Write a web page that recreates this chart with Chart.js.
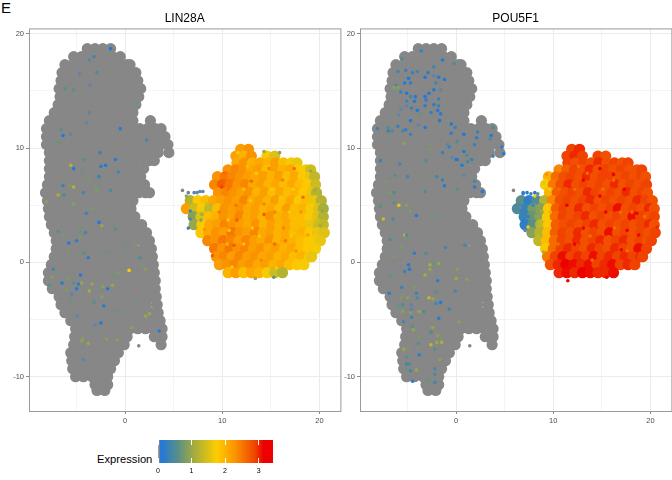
<!DOCTYPE html>
<html>
<head>
<meta charset="utf-8">
<script src="https://cdn.jsdelivr.net/npm/chart.js@4"></script>
<style>
    body { margin: 0; background: #fff; width: 672px; height: 480px; position: relative; overflow: hidden; font-family: "Liberation Sans", sans-serif; }
    canvas { position: absolute; }
    .label { position: absolute; color: #000; line-height: 1; }
</style>
</head>
<body>
<div class="label" style="left:1px;top:0px;font-size:15px;">E</div>
<canvas id="panelA" width="346" height="430" style="left:0;top:0"></canvas>
<canvas id="panelB" width="346" height="430" style="left:331px;top:0"></canvas>
<div class="label" style="left:97px;top:454px;font-size:11.2px;">Expression</div>
<canvas id="legendBar" width="135" height="45" style="left:148px;top:435px"></canvas>
<script>
const xTicks = [0, 10, 20];
const yTicks = [-10, 0, 10, 20];
const panelTitles = ['LIN28A', 'POU5F1'];

// colour bar of the picture
const exprStops = [0, 0.03, 0.08, 0.6, 1.1, 1.75, 2.3, 2.9, 3.15, 3.43];
const exprColors = ['#8a8a8a', '#8a8a8a', '#1f78dc', '#5a8f86', '#a6ad3a', '#fdcd00', '#fb9300', '#f04300', '#ec0000', '#ec0000'];

// the big grey mass, same cells in both panels: one y per row, then the x values of that row
const bodyY = [18.7, 18.0, 17.3, 16.6, 15.9, 15.2, 14.5, 13.8, 13.1, 12.4, 11.7, 11.0, 10.3, 9.6, 8.9, 8.2, 7.5, 6.8, 6.1, 5.4, 4.7, 4.0, 3.3, 2.6, 1.9, 1.2, 0.5, -0.2, -0.9, -1.6, -2.3, -3.0, -3.7, -4.4, -5.1, -5.8, -6.5, -7.2, -7.9, -8.6, -9.3, -10.0, -10.7, -11.2];
const bodyX = [
    [-3.9, -3.1, -2.3, -1.5],
    [-5.3, -4.5, -3.7, -2.9, -2.1, -1.3, -0.5],
    [-6.2, -5.4, -4.6, -3.8, -3.0, -2.2, -1.4, -0.6, 0.2, 0.5],
    [-6.5, -5.7, -4.9, -4.1, -3.3, -2.5, -1.7, -0.9, -0.1, 0.7, 1.1],
    [-6.6, -5.8, -5.0, -4.2, -3.4, -2.6, -1.8, -1.0, -0.2, 0.6, 1.3],
    [-6.8, -6.0, -5.2, -4.4, -3.6, -2.8, -2.0, -1.2, -0.4, 0.4, 1.2, 1.6],
    [-6.7, -5.9, -5.1, -4.3, -3.5, -2.7, -1.9, -1.1, -0.3, 0.5, 1.4],
    [-6.9, -6.1, -5.3, -4.5, -3.7, -2.9, -2.1, -1.3, -0.5, 0.3, 1.1],
    [-7.3, -6.5, -5.7, -4.9, -4.1, -3.3, -2.5, -1.7, -0.9, -0.1, 0.8],
    [-7.8, -7.0, -6.2, -5.4, -4.6, -3.8, -3.0, -2.2, -1.4, -0.6, 0.2, 0.8, 2.6],
    [-8.1, -7.3, -6.5, -5.7, -4.9, -4.1, -3.3, -2.5, -1.7, -0.9, -0.1, 0.7, 1.5, 2.3, 3.1, 3.7],
    [-8.1, -7.3, -6.5, -5.7, -4.9, -4.1, -3.3, -2.5, -1.7, -0.9, -0.1, 0.7, 1.5, 2.3, 3.1, 4.1],
    [-8.1, -7.5, -6.7, -5.9, -5.1, -4.3, -3.5, -2.7, -1.9, -1.1, -0.3, 0.5, 1.3, 2.1, 2.9, 3.7, 4.4],
    [-7.8, -7.0, -6.2, -5.4, -4.6, -3.8, -3.0, -2.2, -1.4, -0.6, 0.2, 1.0, 1.8, 2.6, 3.4, 4.5],
    [-7.8, -7.0, -6.2, -5.4, -4.6, -3.8, -3.0, -2.2, -1.4, -0.6, 0.2, 1.0, 1.8, 2.5, 3.0],
    [-7.8, -7.0, -6.2, -5.4, -4.6, -3.8, -3.0, -2.2, -1.4, -0.6, 0.2, 1.0, 1.9],
    [-7.8, -7.1, -6.3, -5.5, -4.7, -3.9, -3.1, -2.3, -1.5, -0.7, 0.1, 0.9, 1.6],
    [-8.0, -7.2, -6.4, -5.6, -4.8, -4.0, -3.2, -2.4, -1.6, -0.8, 0.0, 0.8, 1.6, 2.0],
    [-8.2, -7.4, -6.6, -5.8, -5.0, -4.2, -3.4, -2.6, -1.8, -1.0, -0.2, 0.6, 1.4, 2.1, 2.5],
    [-8.0, -7.2, -6.4, -5.6, -4.8, -4.0, -3.2, -2.4, -1.6, -0.8, 0.0, 0.8],
    [-7.9, -7.1, -6.3, -5.5, -4.7, -3.9, -3.1, -2.3, -1.5, -0.7, 0.1, 0.6],
    [-7.8, -7.0, -6.2, -5.4, -4.6, -3.8, -3.0, -2.2, -1.4, -0.6, 0.2, 1.0],
    [-7.6, -6.8, -6.0, -5.2, -4.4, -3.6, -2.8, -2.0, -1.2, -0.4, 0.4, 1.2, 1.7],
    [-7.3, -6.5, -5.7, -4.9, -4.1, -3.3, -2.5, -1.7, -0.9, -0.1, 0.7, 1.5, 2.2],
    [-7.1, -6.3, -5.5, -4.7, -3.9, -3.1, -2.3, -1.5, -0.7, 0.1, 0.9, 1.7, 2.5],
    [-7.1, -6.3, -5.5, -4.7, -3.9, -3.1, -2.3, -1.5, -0.7, 0.1, 0.9, 1.9, 2.7],
    [-7.3, -6.5, -5.7, -4.9, -4.1, -3.3, -2.5, -1.7, -0.9, -0.1, 0.7, 1.5, 2.3, 2.8],
    [-7.6, -6.8, -6.0, -5.2, -4.4, -3.6, -2.8, -2.0, -1.2, -0.4, 0.4, 1.2, 2.0, 2.9],
    [-7.9, -7.1, -6.3, -5.5, -4.7, -3.9, -3.1, -2.3, -1.5, -0.7, 0.1, 0.9, 1.7, 2.5, 3.0],
    [-7.9, -7.2, -6.4, -5.6, -4.8, -4.0, -3.2, -2.4, -1.6, -0.8, 0.0, 0.8, 1.6, 2.4, 3.1],
    [-7.5, -6.7, -5.9, -5.1, -4.3, -3.5, -2.7, -1.9, -1.1, -0.3, 0.5, 1.3, 2.1, 3.1],
    [-6.8, -6.0, -5.2, -4.4, -3.6, -2.8, -2.0, -1.2, -0.4, 0.4, 1.2, 2.0, 2.7, 3.2],
    [-6.6, -5.8, -5.0, -4.2, -3.4, -2.6, -1.8, -1.0, -0.2, 0.6, 1.4, 2.2, 3.3],
    [-6.2, -5.4, -4.6, -3.8, -3.0, -2.2, -1.4, -0.6, 0.2, 1.0, 1.8, 2.6, 3.4],
    [-5.6, -4.8, -4.0, -3.2, -2.4, -1.6, -0.8, 0.0, 0.8, 1.6, 2.4, 3.0, 3.6],
    [-5.1, -4.3, -3.5, -2.7, -1.9, -1.1, -0.3, 0.5, 1.3, 2.1, 2.9, 3.8],
    [-5.2, -4.4, -3.6, -2.8, -2.0, -1.2, -0.4, 0.2, 3.0, 3.8],
    [-5.3, -4.5, -3.7, -2.9, -2.1, -1.3, -0.5, -0.1, 3.7],
    [-5.6, -4.8, -4.0, -3.2, -2.4, -1.6, -0.7],
    [-5.5, -4.7, -3.9, -3.1, -2.3, -1.5, -1.1],
    [-5.4, -4.6, -3.8, -3.0, -2.2, -1.5],
    [-5.1, -4.3, -3.4, -2.6, -1.8],
    [-3.1, -2.4, -1.8],
    [-2.9, -2.1]
];

// the coloured cluster on the right, same cells in both panels
const clusterY = [9.9, 9.3, 8.7, 8.1, 7.5, 6.8, 6.1, 5.4, 4.7, 4.0, 3.3, 2.6, 1.9, 1.2, 0.5, -0.2, -0.9];
const clusterX = [
    [11.9, 12.7],
    [11.4, 12.2, 13.0, 14.6, 15.4],
    [11.5, 12.3, 13.1, 13.9, 14.7, 15.5, 16.3, 17.1, 17.7],
    [10.6, 11.4, 12.2, 13.0, 13.8, 14.6, 15.4, 16.2, 17.0, 17.8, 18.6, 19.1],
    [9.5, 10.3, 11.1, 11.9, 12.7, 13.5, 14.3, 15.1, 15.9, 16.7, 17.5, 18.3, 19.1, 19.5],
    [9.2, 10.0, 10.8, 11.6, 12.4, 13.2, 14.0, 14.8, 15.6, 16.4, 17.2, 18.0, 18.8, 19.6],
    [9.6, 10.4, 11.2, 12.0, 12.8, 13.6, 14.4, 15.2, 16.0, 16.8, 17.6, 18.4, 19.2, 19.7],
    [6.7, 7.5, 8.3, 9.1, 9.9, 10.7, 11.5, 12.3, 13.1, 13.9, 14.7, 15.5, 16.3, 17.1, 17.9, 18.7, 19.5, 20.2],
    [6.3, 7.1, 7.9, 8.7, 9.5, 10.3, 11.1, 11.9, 12.7, 13.5, 14.3, 15.1, 15.9, 16.7, 17.5, 18.3, 19.1, 19.9, 20.4],
    [7.0, 7.8, 8.6, 9.4, 10.2, 11.0, 11.8, 12.6, 13.4, 14.2, 15.0, 15.8, 16.6, 17.4, 18.2, 19.0, 19.8, 20.4],
    [7.1, 7.9, 8.7, 9.5, 10.3, 11.1, 11.9, 12.7, 13.5, 14.3, 15.1, 15.9, 16.7, 17.5, 18.3, 19.1, 19.9, 20.4],
    [7.8, 8.6, 9.4, 10.2, 11.0, 11.8, 12.6, 13.4, 14.2, 15.0, 15.8, 16.6, 17.4, 18.2, 19.0, 19.8, 20.5],
    [8.5, 9.3, 10.1, 10.9, 11.7, 12.5, 13.3, 14.1, 14.9, 15.7, 16.5, 17.3, 18.1, 18.9, 19.7, 20.1],
    [9.2, 10.0, 10.8, 11.6, 12.4, 13.2, 14.0, 14.8, 15.6, 16.4, 17.2, 18.0, 18.8, 19.6],
    [9.4, 10.2, 11.0, 11.8, 12.6, 13.4, 14.2, 15.0, 15.8, 16.6, 17.4, 18.2, 19.0, 19.2],
    [9.7, 10.5, 11.3, 12.1, 12.9, 13.7, 14.5, 15.3, 16.1, 16.9, 17.7, 18.4],
    [10.6, 11.4, 12.2, 13.0, 13.8, 14.6, 15.4, 16.2]
];
const clusterLin28a = [
    [2.2, 2.3],
    [2.2, 2.0, 2.3, 1.7, 1.5],
    [2.1, 2.3, 2.0, 2.1, 2.0, 2.2, 1.9, 1.8, 1.6],
    [2.3, 2.4, 2.3, 2.1, 2.2, 1.9, 2.2, 2.0, 2.1, 1.8, 1.7, 1.4],
    [2.3, 2.5, 2.4, 2.3, 2.2, 2.1, 2.2, 2.0, 2.2, 1.9, 2.1, 1.8, 1.6, 1.3],
    [2.4, 2.7, 2.5, 2.3, 2.4, 2.1, 2.2, 2.0, 2.1, 1.9, 2.1, 1.9, 1.8, 1.4],
    [2.3, 2.4, 2.3, 2.2, 2.3, 2.0, 2.2, 1.9, 2.1, 1.9, 2.0, 1.8, 1.6, 1.2],
    [1.2, 1.8, 1.9, 2.1, 2.2, 2.3, 2.2, 2.4, 2.1, 2.2, 2.0, 2.2, 1.9, 2.1, 1.8, 1.9, 1.6, 1.2],
    [2.2, 1.4, 1.7, 1.3, 1.9, 2.3, 2.2, 2.3, 2.1, 2.2, 2.0, 2.1, 1.9, 2.2, 1.9, 2.0, 1.7, 1.5, 1.1],
    [0.9, 1.5, 1.9, 2.0, 2.3, 2.2, 2.4, 2.1, 2.2, 2.0, 2.3, 2.0, 2.1, 1.9, 1.9, 1.7, 1.5, 1.2],
    [1.0, 1.7, 2.1, 2.2, 2.4, 2.3, 2.2, 2.1, 2.3, 2.0, 2.2, 2.0, 2.1, 1.9, 1.9, 1.6, 1.4, 1.3],
    [1.8, 2.1, 2.3, 2.2, 2.5, 2.3, 2.2, 2.4, 2.1, 2.2, 2.0, 2.1, 1.9, 2.0, 1.8, 1.6, 1.5],
    [2.4, 2.3, 2.5, 2.4, 2.2, 2.4, 2.2, 2.1, 2.3, 2.0, 2.1, 2.0, 1.9, 1.8, 1.7, 1.6],
    [2.5, 2.3, 2.5, 2.3, 2.4, 2.2, 2.3, 2.1, 2.2, 2.0, 2.1, 1.9, 1.8, 1.7],
    [2.3, 2.4, 2.2, 2.4, 2.2, 2.3, 2.1, 2.2, 2.0, 2.1, 1.9, 2.0, 1.8, 1.6],
    [2.2, 2.3, 2.4, 2.2, 2.3, 2.1, 2.2, 2.0, 2.1, 1.9, 1.8, 1.7],
    [2.0, 2.2, 1.9, 2.1, 2.0, 1.7, 1.4, 1.2]
];
const clusterPou5f1 = [
    [2.9, 3.0],
    [2.9, 3.0, 2.9, 2.9, 2.8],
    [2.9, 2.8, 2.9, 2.8, 3.0, 2.8, 2.9, 2.8, 2.9],
    [2.4, 2.7, 2.9, 2.8, 3.0, 2.8, 2.9, 2.8, 2.9, 2.8, 2.8, 2.9],
    [2.0, 2.6, 2.8, 2.9, 2.8, 3.0, 2.8, 2.9, 2.9, 2.8, 2.9, 2.8, 2.9, 2.8],
    [1.7, 2.5, 2.8, 3.0, 2.8, 2.9, 2.8, 2.9, 2.8, 3.0, 2.8, 2.9, 2.8, 2.9],
    [2.0, 2.7, 2.8, 2.9, 2.8, 3.0, 2.9, 2.8, 2.9, 2.8, 3.0, 2.8, 2.9, 2.8],
    [0.6, 0.2, 0.5, 1.2, 2.4, 2.8, 2.9, 2.8, 2.9, 3.0, 2.8, 2.9, 2.8, 2.9, 2.8, 3.0, 2.9, 2.8],
    [0.5, 0.3, 0.8, 0.9, 1.8, 2.7, 2.9, 2.8, 3.0, 2.8, 2.9, 2.8, 2.9, 3.1, 2.8, 2.9, 2.8, 3.0, 2.8],
    [0.3, 0.7, 0.9, 1.7, 2.6, 2.9, 2.8, 2.9, 3.0, 2.8, 2.9, 2.8, 2.9, 2.8, 3.1, 2.9, 2.8, 2.9],
    [0.2, 0.6, 1.3, 1.8, 2.7, 2.8, 2.9, 2.8, 2.9, 3.0, 2.8, 2.9, 2.8, 2.9, 2.8, 2.9, 3.0, 2.8],
    [0.9, 1.2, 1.9, 2.7, 2.9, 2.8, 3.0, 2.8, 2.9, 2.8, 3.1, 2.8, 2.9, 2.8, 2.9, 2.8, 2.9],
    [1.3, 1.9, 2.6, 2.9, 2.8, 3.0, 2.8, 2.9, 3.0, 2.8, 2.9, 3.0, 2.8, 2.9, 2.8, 2.9],
    [1.8, 2.6, 2.9, 3.0, 2.9, 2.8, 3.0, 2.9, 2.8, 3.0, 2.9, 2.8, 3.1, 2.9],
    [2.5, 2.9, 3.1, 2.9, 3.0, 2.9, 3.1, 2.9, 3.0, 2.9, 3.0, 2.9, 3.0, 2.9],
    [2.8, 3.0, 3.2, 3.1, 3.0, 3.1, 2.9, 3.0, 3.1, 2.9, 3.0, 2.9],
    [3.0, 3.1, 3.0, 3.2, 3.1, 3.0, 3.0, 3.1]
];

// loose grey cells outside the mass
const strayGray = [[5.9, 6.3], [1.4, -7.3]];

// expressing cells scattered inside the grey mass: x, y, expression
const lin28aSpots = [
    [-1.5, 18.7, 0.1], [-3.2, 18.0, 0.4], [-3.7, 17.7, 0.5], [-4.7, 16.5, 0.05], [-2.9, 16.6, 0.5], [-3.6, 15.5, 0.05], [-6.2, 15.2, 0.6], [-5.3, 15.1, 0.6],
    [1.0, 13.9, 0.7], [-3.7, 13.1, 0.05], [-4.0, 12.2, 0.05], [-0.5, 11.7, 0.15], [-6.6, 11.6, 0.6], [-6.4, 11.1, 0.1], [-5.6, 11.2, 0.05], [-6.8, 10.5, 0.7],
    [2.2, 10.7, 0.4], [-2.6, 9.6, 0.3], [-4.2, 9.0, 0.6], [-1.0, 9.0, 0.15], [-5.6, 8.5, 1.2], [-5.3, 8.2, 0.1], [-2.5, 8.4, 0.2], [-2.0, 8.5, 0.1],
    [-4.5, 8.0, 0.7], [-0.7, 7.9, 0.4], [-2.7, 7.5, 0.3], [-3.8, 7.3, 0.8], [-6.4, 6.7, 0.3], [-5.7, 6.7, 0.8], [-5.3, 6.6, 1.2], [-3.1, 6.6, 0.8],
    [-2.9, 6.3, 0.8], [-1.5, 6.3, 0.5], [-4.3, 6.1, 0.4], [-6.9, 5.9, 1.1], [-6.3, 5.9, 0.5], [-8.1, 5.3, 0.9], [-5.3, 5.1, 0.9], [-3.3, 4.7, 0.8],
    [-4.0, 4.3, 0.3], [-2.7, 3.5, 0.1], [-2.4, 3.2, 1.0], [-1.0, 2.9, 0.6], [-6.9, 2.7, 0.6], [-4.6, 2.7, 0.7], [-4.1, 2.6, 0.4], [-6.3, 2.3, 0.8],
    [-4.6, 2.2, 0.8], [-5.8, 1.7, 0.1], [-5.0, 1.9, 0.2], [-5.8, 1.0, 0.8], [-4.2, 0.8, 0.6], [-3.8, 0.4, 0.2], [-1.9, 0.9, 0.7], [0.0, 1.5, 0.7],
    [1.1, 1.5, 0.8], [1.5, 0.4, 0.5], [1.7, -0.3, 0.8], [2.1, -0.6, 0.9], [0.4, -0.7, 1.7], [-7.4, -0.6, 0.4], [-7.5, -1.3, 0.9], [-4.6, -1.1, 0.1],
    [-1.2, -1.2, 0.7], [-0.6, -0.9, 0.8], [-6.5, -1.8, 0.1], [-5.8, -1.4, 0.8], [-5.3, -1.8, 0.6], [-4.5, -1.8, 1.0], [-4.8, -1.9, 0.2], [-3.4, -1.9, 1.0],
    [-7.8, -2.0, 0.6], [-5.0, -2.3, 0.1], [-6.0, -2.4, 0.8], [-3.7, -2.5, 1.1], [-2.3, -2.1, 0.9], [-1.3, -2.0, 1.0], [-1.8, -2.3, 0.1], [-5.5, -2.8, 0.05],
    [-2.4, -3.0, 0.9], [-5.6, -3.4, 0.7], [-3.2, -3.5, 0.6], [-2.2, -3.8, 0.2], [1.2, -3.6, 0.7], [-0.7, -4.3, 0.7], [-4.9, -4.7, 0.05], [2.1, -4.7, 1.0],
    [2.5, -4.5, 1.0], [-3.1, -5.5, 0.05], [-2.5, -5.3, 0.1], [0.7, -5.7, 0.9], [3.5, -6.0, 0.1], [-4.4, -6.7, 0.9], [-4.5, -6.9, 0.9], [-3.8, -7.1, 1.0],
    [-1.9, -6.7, 0.9], [-0.8, -6.8, 0.9], [-4.3, -8.5, 0.05]
];
const pou5f1Spots = [
    [-3.6, 18.5, 0.3], [-5.6, 17.8, 0.5], [-1.4, 17.7, 0.1], [-0.2, 17.4, 0.5], [-2.3, 17.1, 0.4], [-6.0, 16.7, 0.4], [-5.2, 16.8, 0.3], [-4.5, 16.6, 0.3],
    [-4.0, 16.7, 0.4], [-2.9, 16.6, 0.2], [-2.3, 16.3, 0.05], [-1.8, 16.2, 0.1], [-3.2, 16.2, 0.1], [-4.9, 16.1, 0.1], [-5.3, 15.7, 0.1], [-4.7, 15.7, 0.2],
    [-1.2, 16.0, 0.1], [-2.1, 15.7, 0.4], [-6.2, 15.5, 0.5], [-6.0, 15.3, 0.9], [-6.4, 15.3, 0.9], [-5.7, 14.9, 0.3], [-5.1, 14.8, 0.1], [-2.8, 14.8, 0.1],
    [-2.3, 15.1, 0.1], [-1.6, 15.1, 0.05], [-4.7, 14.5, 0.4], [-4.2, 14.5, 0.1], [-3.2, 14.5, 0.1], [-3.1, 14.2, 0.2], [-1.8, 14.3, 0.3], [-5.1, 14.1, 0.4],
    [-4.3, 14.1, 0.1], [-5.1, 13.7, 0.05], [-3.2, 13.7, 0.2], [-1.8, 13.7, 0.3], [-2.3, 13.8, 0.2], [-4.6, 13.5, 0.3], [-5.7, 13.4, 0.05], [-4.0, 13.3, 0.1],
    [-1.9, 13.3, 0.1], [-2.6, 13.1, 0.3], [-3.8, 13.0, 0.7], [-1.6, 13.0, 0.1], [-5.9, 12.9, 0.05], [-1.7, 12.4, 0.1], [-4.7, 12.4, 0.1], [-3.9, 12.0, 0.05],
    [-0.5, 12.1, 0.1], [-0.1, 11.8, 0.3], [-8.1, 11.7, 0.3], [-7.0, 11.8, 0.5], [-7.0, 11.5, 0.3], [-6.0, 11.9, 0.3], [-6.6, 11.5, 0.5], [-5.5, 11.5, 0.4],
    [-5.2, 11.6, 0.2], [-3.2, 11.8, 0.1], [-4.7, 11.2, 0.3], [2.2, 11.4, 0.3], [3.8, 11.8, 0.5], [-0.5, 11.3, 0.2], [0.8, 11.2, 0.1], [2.1, 10.9, 0.2],
    [3.6, 11.1, 0.1], [3.5, 10.8, 0.5], [0.1, 10.6, 0.5], [-5.4, 10.4, 0.9], [-0.9, 10.3, 0.05], [1.9, 10.3, 0.3], [-0.7, 10.1, 0.3], [-2.7, 9.9, 0.8],
    [4.7, 10.1, 0.2], [0.8, 9.7, 0.1], [-1.4, 9.6, 0.3], [4.9, 9.5, 0.1], [1.1, 9.4, 0.5], [3.8, 9.3, 0.3], [-0.4, 9.2, 0.05], [0.0, 9.0, 0.1],
    [0.1, 9.0, 0.1], [1.6, 9.0, 0.3], [1.2, 8.8, 0.4], [-7.8, 8.9, 0.3], [-3.1, 8.9, 0.5], [0.6, 8.5, 0.1], [-5.8, 8.6, 0.4], [0.8, 7.6, 0.05],
    [-6.3, 7.6, 0.6], [-5.0, 7.5, 0.4], [-2.0, 7.5, 0.4], [-1.4, 7.2, 0.3], [-1.2, 6.7, 0.1], [1.9, 7.1, 0.4], [1.9, 6.6, 0.1], [-7.2, 7.1, 0.8],
    [2.7, 6.2, 0.1], [0.1, 6.4, 0.6], [-3.2, 6.2, 0.5], [-6.8, 6.1, 0.8], [-6.4, 6.1, 0.5], [-6.4, 5.2, 0.6], [-5.9, 5.0, 1.6], [-5.1, 5.0, 0.9],
    [-7.8, 4.9, 0.6], [-4.7, 4.5, 0.8], [-4.1, 4.1, 0.1], [-2.0, 4.1, 0.7], [-7.5, 3.8, 1.4], [-6.5, 3.8, 0.5], [-5.3, 2.4, 1.2], [-5.1, 2.4, 0.5],
    [-6.8, 2.0, 0.5], [-5.7, 1.3, 0.8], [-4.3, 0.8, 0.2], [-3.1, 0.8, 0.5], [-1.1, 1.3, 0.4], [0.9, 1.5, 0.4], [-6.4, 0.5, 0.8], [-4.9, -0.2, 0.1],
    [-4.8, -0.6, 0.1], [-5.3, -0.8, 0.3], [-2.7, -0.2, 1.1], [-2.3, -0.1, 0.7], [-1.8, -0.1, 1.0], [-2.7, -0.6, 1.0], [-3.2, -1.1, 1.1], [-6.7, -1.2, 0.7],
    [0.1, -0.6, 0.9], [0.0, -1.4, 1.0], [1.1, -1.5, 0.9], [-1.9, -1.6, 0.2], [-5.6, -2.2, 0.3], [-4.3, -2.2, 0.8], [-6.9, -2.7, 0.2], [-4.1, -2.7, 0.3],
    [-0.1, -2.5, 0.4], [-2.1, -2.6, 0.6], [-5.7, -3.1, 0.8], [-5.0, -3.1, 0.9], [-4.0, -3.1, 0.5], [-2.8, -3.1, 1.3], [-2.4, -3.2, 1.0], [-2.1, -3.6, 0.4],
    [-1.6, -3.5, 0.1], [-4.6, -3.7, 0.05], [-4.6, -4.1, 0.05], [-5.5, -3.7, 0.5], [-5.9, -3.8, 0.7], [-0.7, -4.1, 0.4], [-5.5, -4.3, 0.9], [-4.7, -4.4, 0.9],
    [-3.8, -4.3, 1.0], [-3.3, -4.3, 0.5], [-4.6, -4.8, 0.3], [-1.8, -4.9, 0.2], [-5.4, -5.2, 0.4], [0.3, -5.2, 0.9], [-4.5, -5.6, 0.6], [-4.4, -5.9, 1.0],
    [-2.4, -5.7, 1.0], [-2.6, -6.1, 0.5], [-1.9, -6.4, 0.9], [-3.8, -6.5, 0.8], [-1.6, -6.7, 0.8], [-3.9, -7.1, 0.6], [-2.6, -7.2, 1.3], [-2.0, -7.0, 1.0],
    [-1.5, -7.0, 1.1], [-5.4, -7.6, 1.0], [-5.0, -7.5, 0.8], [-2.2, -7.6, 0.6], [-3.8, -8.1, 0.2], [-5.1, -8.3, 0.6], [-1.7, -8.5, 0.9], [-5.1, -8.9, 0.4],
    [-4.8, -8.9, 0.5], [-2.2, -9.3, 0.4], [-5.1, -9.4, 0.7], [-4.7, -9.5, 0.4], [-4.1, -9.4, 1.0], [-2.2, -9.8, 0.5], [-2.8, -10.3, 0.7], [-4.5, -10.4, 0.2],
    [-2.2, -10.5, 0.4]
];

// single flecks on top of the cluster: x, y, expression
const lin28aFlecks = [
    [9.9, 6.6, 2.9], [10.2, 7.8, 2.6], [13.0, 7.1, 2.6], [14.3, 4.2, 2.7], [11.5, 3.7, 2.7], [11.2, 1.5, 2.7], [18.3, 5.7, 2.6], [15.4, 1.6, 2.6],
    [9.0, 0.6, 2.7], [17.4, 8.2, 2.6], [16.5, 1.9, 2.5], [19.5, 6.3, 1.1], [20.3, 4.5, 1.0], [20.1, 3.2, 1.1], [7.8, 3.7, 0.9], [6.7, 3.8, 0.5],
    [6.5, 3.0, 0.3], [6.3, 5.8, 1.0], [19.1, 8.0, 1.0], [14.3, 9.7, 1.0], [15.9, 9.6, 0.9], [15.3, -1.3, 0.7], [13.4, -1.4, 1.0], [6.7, 4.5, 0.4],
    [7.9, 4.2, 1.1], [16.0, 5.7, 1.7], [12.9, 5.4, 1.8], [10.7, 2.8, 1.8], [7.1, 6.1, 0.05], [7.4, 6.1, 0.05], [7.7, 6.2, 0.05], [8.0, 6.2, 0.05],
    [6.5, 6.1, 0.05], [10.6, 6.4, 2.5], [11.4, 5.0, 2.5], [12.2, 6.4, 1.9], [13.5, 7.8, 1.8], [14.8, 8.2, 2.4], [16.2, 7.2, 2.4], [17.3, 6.4, 1.7],
    [18.1, 4.4, 2.3], [15.4, 4.4, 2.4], [13.8, 2.3, 1.8], [12.2, 1.6, 1.9], [10.5, 1.6, 2.0], [11.0, -0.4, 1.8], [14.0, 0.2, 2.4], [16.3, 3.0, 2.4],
    [17.6, 1.0, 2.3], [18.8, 2.4, 2.2], [19.4, 4.0, 1.9], [12.6, 8.4, 1.9], [11.6, 9.6, 1.8], [16.9, 4.4, 1.7], [13.1, 3.0, 1.8], [15.1, 6.4, 1.8],
    [14.3, 5.1, 2.4], [9.7, 4.4, 2.5], [8.4, 5.1, 1.4], [8.2, 2.9, 2.3], [10.6, 3.7, 1.8], [17.1, 2.3, 1.7], [15.6, -0.5, 1.7]
];
const pou5f1Flecks = [
    [16.2, 7.7, 3.3], [13.1, 7.2, 3.3], [14.8, 5.8, 3.3], [18.6, 4.3, 3.3], [17.6, 2.8, 3.3], [17.0, 1.1, 3.3], [11.0, -0.3, 3.3], [11.5, -1.6, 3.2],
    [15.5, -1.3, 3.2], [20.7, 3.1, 3.0], [8.1, 5.8, 1.8], [9.0, 3.8, 1.7], [7.4, 3.1, 1.7], [6.9, 6.0, 0.1], [8.3, 1.9, 1.3], [7.1, 2.8, 0.05],
    [9.0, 6.9, 1.6], [9.3, 7.7, 2.3], [9.0, 0.9, 1.1], [7.9, 5.0, 0.4], [8.8, 4.5, 1.1], [6.6, 4.8, 0.05], [7.4, 4.0, 0.2], [8.3, 3.4, 1.2],
    [6.2, 5.0, 0.4], [6.9, 6.1, 0.2], [7.3, 6.1, 0.1], [7.7, 6.0, 0.3], [8.1, 6.1, 0.1], [8.4, 6.0, 0.6], [10.6, 6.4, 2.6], [11.4, 5.0, 3.2],
    [12.2, 6.4, 2.6], [13.5, 7.8, 2.6], [14.8, 8.2, 3.2], [16.2, 7.2, 2.6], [17.3, 6.4, 3.2], [18.1, 4.4, 2.6], [15.4, 4.4, 3.2], [13.8, 2.3, 2.6],
    [12.2, 1.6, 3.2], [10.5, 1.6, 2.6], [14.0, 0.2, 2.6], [16.3, 3.0, 2.6], [17.6, 1.0, 2.6], [18.8, 2.4, 3.2], [19.4, 4.0, 2.6], [12.6, 8.4, 2.6],
    [16.9, 4.4, 2.6], [13.1, 3.0, 3.2], [15.1, 6.4, 2.6], [9.7, 4.4, 2.1], [9.2, 2.9, 1.6], [9.6, 6.4, 1.7]
];

function hexToRgb(hex) {
    return [1, 3, 5].map(i => parseInt(hex.slice(i, i + 2), 16));
}

// expression value -> colour of the colour bar
function exprColor(value) {
    let i = 0;
    while (i < exprStops.length - 2 && value > exprStops[i + 1]) i++;
    const t = Math.min(1, Math.max(0, (value - exprStops[i]) / (exprStops[i + 1] - exprStops[i])));
    const a = hexToRgb(exprColors[i]);
    const b = hexToRgb(exprColors[i + 1]);
    return `rgb(${a.map((v, k) => Math.round(v + (b[k] - v) * t)).join(',')})`;
}

function rowsToPoints(ys, xs) {
    const points = [];
    ys.forEach((y, r) => xs[r].forEach(x => points.push({ x, y })));
    return points;
}

// border all around the panel
const panelBorder = {
    id: 'panelBorder',
    afterDraw(chart) {
        const { ctx, chartArea: a } = chart;
        ctx.save();
        ctx.strokeStyle = '#9a9a9a';
        ctx.lineWidth = 1;
        ctx.strokeRect(a.left + 0.5, a.top + 0.5, a.right - a.left, a.bottom - a.top);
        ctx.restore();
    }
};

function axisOptions(min, max, majors, size) {
    return {
        type: 'linear',
        min: min,
        max: max,
        border: { display: false },
        grid: {
            color: c => majors.includes(c.tick.value) ? '#ebebeb' : '#f4f4f4',
            tickColor: c => majors.includes(c.tick.value) ? '#8a8a8a' : 'rgba(0,0,0,0)',
            tickLength: 3,
            lineWidth: 1
        },
        ticks: {
            stepSize: 5,
            includeBounds: false,
            autoSkip: false,
            maxRotation: 0,
            color: '#4d4d4d',
            padding: 2,
            font: { family: '"Liberation Sans"', size: 7.5 },
            callback: v => majors.includes(v) ? String(v) : ''
        },
        afterFit: scale => {
            if (scale.axis === 'x') scale.height = size;
            else scale.width = size;
        }
    };
}

function drawPanel(canvasId, title, clusterExpr, spots) {
    const clusterColors = clusterExpr.flat().map(exprColor);
    new Chart(document.getElementById(canvasId), {
        type: 'scatter',
        plugins: [panelBorder],
        data: {
            datasets: [
                { data: rowsToPoints(bodyY, bodyX), pointRadius: 5.6, pointBackgroundColor: '#878787', pointBorderWidth: 0, order: 4 },
                { data: strayGray.map(p => ({ x: p[0], y: p[1] })), pointRadius: 1.8, pointBackgroundColor: '#878787', pointBorderWidth: 0, order: 3 },
                { data: rowsToPoints(clusterY, clusterX), pointRadius: 5.6, pointBackgroundColor: clusterColors, pointBorderWidth: 0, order: 2 },
                { data: spots.map(p => ({ x: p[0], y: p[1] })), pointRadius: 1.8, pointBackgroundColor: spots.map(p => exprColor(p[2])), pointBorderWidth: 0, order: 1 }
            ]
        },
        options: {
            responsive: false,
            animation: false,
            devicePixelRatio: 1,
            layout: { padding: { left: 0, right: 1, top: 0, bottom: 0 } },
            plugins: {
                legend: { display: false },
                tooltip: { enabled: false },
                title: {
                    display: true,
                    fullSize: false,
                    text: title,
                    color: '#000',
                    font: { family: '"Liberation Sans"', size: 12, weight: 'normal' },
                    padding: { top: 11, bottom: 3 }
                }
            },
            scales: {
                x: axisOptions(-9.9, 22.16, xTicks, 19),
                y: axisOptions(-13.0, 20.47, yTicks, 29)
            }
        }
    });
}

function drawLegend() {
    new Chart(document.getElementById('legendBar'), {
        type: 'bar',
        data: {
            labels: ['Expression'],
            datasets: [{
                data: [exprStops[exprStops.length - 1]],
                barPercentage: 1,
                categoryPercentage: 1,
                backgroundColor: c => {
                    const a = c.chart.chartArea;
                    if (!a) return exprColors[0];
                    const g = c.chart.ctx.createLinearGradient(a.left, 0, a.right, 0);
                    exprStops.forEach((s, i) => g.addColorStop(s / exprStops[exprStops.length - 1], exprColors[i]));
                    return g;
                }
            }]
        },
        options: {
            indexAxis: 'y',
            responsive: false,
            animation: false,
            devicePixelRatio: 1,
            layout: { padding: { left: 10, right: 10, top: 5, bottom: 0 } },
            plugins: { legend: { display: false }, tooltip: { enabled: false } },
            scales: {
                y: { display: false },
                x: {
                    type: 'linear',
                    min: 0,
                    max: exprStops[exprStops.length - 1],
                    border: { display: false, dash: [5, 13] },
                    grid: { color: '#fff', z: 1, drawTicks: false },
                    ticks: {
                        stepSize: 1,
                        includeBounds: false,
                        maxRotation: 0,
                        color: '#000',
                        padding: 4,
                        font: { family: '"Liberation Sans"', size: 7 }
                    },
                    afterFit: scale => { scale.height = 17; }
                }
            }
        }
    });
}

drawPanel('panelA', panelTitles[0], clusterLin28a, lin28aSpots.concat(lin28aFlecks));
drawPanel('panelB', panelTitles[1], clusterPou5f1, pou5f1Spots.concat(pou5f1Flecks));
drawLegend();
</script>
</body>
</html>
